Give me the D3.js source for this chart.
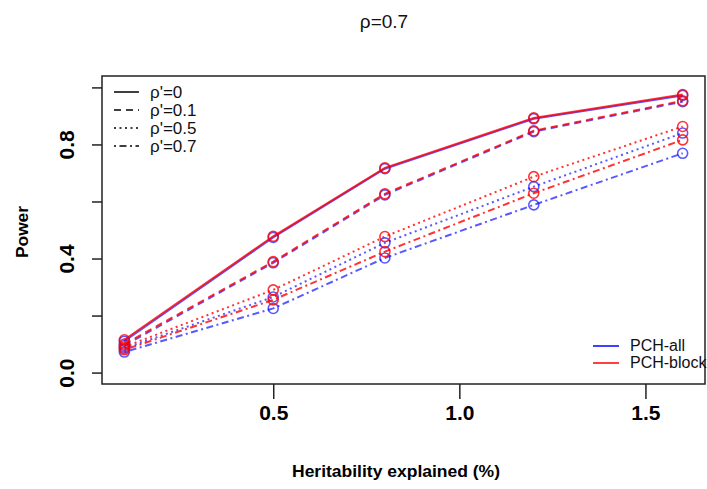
<!DOCTYPE html>
<html><head><meta charset="utf-8">
<script src="https://cdn.jsdelivr.net/npm/d3@7/dist/d3.min.js"></script>
<style>
html,body{margin:0;padding:0;background:#fff;}
svg{display:block;font-family:"Liberation Sans",Arial,Helvetica,sans-serif;}
</style></head>
<body>
<svg id="chart" width="707" height="489"></svg>
<script>
// ---- data ----
const heritability = [0.1, 0.5, 0.8, 1.2, 1.6];
const rhoPrimeLabels = ["ρ'=0", "ρ'=0.1", "ρ'=0.5", "ρ'=0.7"];
const methods = ["PCH-all", "PCH-block"];
const xTicks = [0.5, 1.0, 1.5];
const yTicks = [0.0, 0.2, 0.4, 0.6, 0.8, 1.0];
const yTickLabels = ["0.0", "", "0.4", "", "0.8", ""];
// PCH-all (blue)
const allRho0  = [0.110, 0.474, 0.715, 0.890, 0.972];
const allRho01 = [0.095, 0.385, 0.623, 0.845, 0.950];
const allRho05 = [0.085, 0.265, 0.455, 0.652, 0.840];
const allRho07 = [0.072, 0.225, 0.402, 0.588, 0.769];
// PCH-block (red)
const blockRho0  = [0.115, 0.478, 0.718, 0.893, 0.975];
const blockRho01 = [0.100, 0.389, 0.627, 0.848, 0.953];
const blockRho05 = [0.090, 0.290, 0.477, 0.687, 0.863];
const blockRho07 = [0.080, 0.255, 0.424, 0.629, 0.816];

const allSeries = [allRho0, allRho01, allRho05, allRho07];
const blockSeries = [blockRho0, blockRho01, blockRho05, blockRho07];

// ---- styles ----
const dashes = [null, "7,5", "2,3.5", "2,3.5,7,3.5"];
const blue = "rgba(0,0,255,0.65)";
const red = "rgba(255,0,0,0.8)";

const svg = d3.select("#chart");
const box = {l: 102, r: 705, t: 76, b: 384};

const x = d3.scaleLinear().domain([0.04, 1.66]).range([box.l, box.r]);
const y = d3.scaleLinear().domain([-0.04, 1.04]).range([box.b, box.t]);

// plot box
svg.append("rect").attr("x", box.l).attr("y", box.t)
  .attr("width", box.r - box.l).attr("height", box.b - box.t)
  .attr("fill", "none").attr("stroke", "#222").attr("stroke-width", 1.5);

// x axis
const xAxis = d3.axisBottom(x).tickValues(xTicks).tickFormat(d3.format(".1f")).tickSize(15).tickSizeOuter(0);
const gx = svg.append("g").attr("transform", `translate(0,${box.b})`).call(xAxis);
gx.select(".domain").remove();
gx.selectAll(".tick line").attr("stroke", "#222").attr("stroke-width", 1.5);
gx.selectAll(".tick text").attr("font-size", 21).attr("font-weight", "bold").attr("fill", "#000")
  .attr("font-family", "Liberation Sans, Arial, sans-serif").attr("y", 36).attr("dy", null);

// y axis
const yAxis = d3.axisLeft(y).tickValues(yTicks).tickFormat((d, i) => yTickLabels[i]).tickSize(10).tickSizeOuter(0);
const gy = svg.append("g").attr("transform", `translate(${box.l},0)`).call(yAxis);
gy.select(".domain").remove();
gy.selectAll(".tick line").attr("stroke", "#222").attr("stroke-width", 1.5);
gy.selectAll(".tick text").attr("font-size", 21).attr("font-weight", "bold").attr("fill", "#000")
  .attr("font-family", "Liberation Sans, Arial, sans-serif")
  .attr("x", null).attr("dy", null)
  .attr("text-anchor", "middle")
  .attr("transform", "translate(-35,0) rotate(-90) translate(0,7)");

// lines & points
const line = d3.line().x((d, i) => x(heritability[i])).y(d => y(d));
function drawSeries(series, color) {
  series.forEach((vals, k) => {
    svg.append("path").datum(vals).attr("d", line)
      .attr("fill", "none").attr("stroke", color).attr("stroke-width", 2)
      .attr("stroke-dasharray", dashes[k]);
    svg.append("g").selectAll("circle").data(vals).join("circle")
      .attr("cx", (d, i) => x(heritability[i])).attr("cy", d => y(d)).attr("r", 5)
      .attr("fill", "none").attr("stroke", color).attr("stroke-width", 1.6);
  });
}
drawSeries(allSeries, blue);
drawSeries(blockSeries, red);

// legend: line types
const lg = svg.append("g");
rhoPrimeLabels.forEach((lab, k) => {
  const yy = 92 + k * 18;
  lg.append("line").attr("x1", 114).attr("x2", 139).attr("y1", yy).attr("y2", yy)
    .attr("stroke", "#000").attr("stroke-width", 1.5).attr("stroke-dasharray", dashes[k]);
  lg.append("text").attr("x", 150).attr("y", yy + 6).attr("font-size", 17).attr("fill", "#111").text(lab);
});

// legend: methods
const mColors = ["#0000ff", "#ff0000"];
methods.forEach((m, k) => {
  const yy = 346 + k * 17;
  lg.append("line").attr("x1", 593).attr("x2", 619).attr("y1", yy).attr("y2", yy)
    .attr("stroke", mColors[k]).attr("stroke-width", 1.5);
  lg.append("text").attr("x", 630).attr("y", yy + 5).attr("font-size", 16).attr("fill", "#111").text(m);
});

// titles
svg.append("text").attr("x", 384).attr("y", 28).attr("text-anchor", "middle")
  .attr("font-size", 19).attr("fill", "#111").text("ρ=0.7");
svg.append("text").attr("x", 396).attr("y", 477).attr("text-anchor", "middle")
  .attr("font-size", 17).attr("font-weight", "bold").attr("fill", "#000")
  .attr("textLength", 208).attr("lengthAdjust", "spacingAndGlyphs")
  .text("Heritability explained (%)");
svg.append("text").attr("transform", "translate(28,232) rotate(-90)").attr("text-anchor", "middle")
  .attr("font-size", 17).attr("font-weight", "bold").attr("fill", "#000")
  .attr("textLength", 52).attr("lengthAdjust", "spacingAndGlyphs")
  .text("Power");
</script>
</body></html>
